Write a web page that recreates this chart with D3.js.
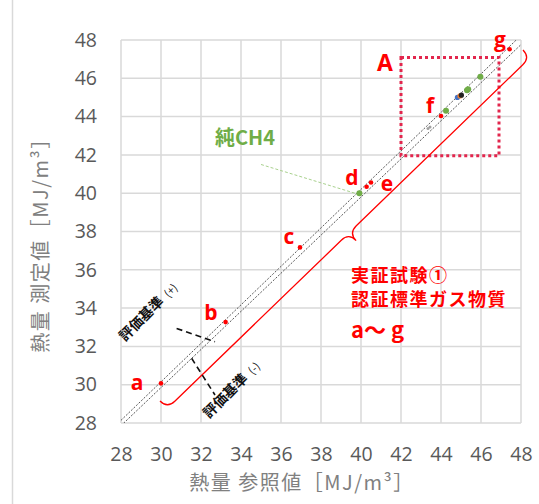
<!DOCTYPE html>
<html>
<head>
<meta charset="utf-8">
<script src="https://cdn.jsdelivr.net/npm/d3@7/dist/d3.min.js"></script>
<style>
  html, body { margin: 0; padding: 0; background: #fff; }
  svg { display: block; }
</style>
</head>
<body>
<svg id="chart" width="539" height="504"></svg>
<script>
// ---- data (MJ/m3) ----
const tickValues = [28, 30, 32, 34, 36, 38, 40, 42, 44, 46, 48];

// certified standard gases a–g: [reference, measured]
const stdLabels = ["a", "b", "c", "d", "e", "f", "g"];
const stdRef    = [30.0, 33.23, 36.95, 40.28, 40.5, 44.0, 47.43];
const stdMeas   = [30.07, 33.27, 37.17, 40.34, 40.56, 44.03, 47.52];

// pure CH4 runs
const ch4Ref  = [39.92, 44.25, 45.3, 45.36, 45.97];
const ch4Meas = [40.0, 44.3, 45.37, 45.43, 46.08];

// other runs in the 45 MJ/m3 cluster
const otherRef   = [44.82, 44.95, 45.02, 43.35, 43.45];
const otherMeas  = [45.0, 45.08, 45.12, 43.38, 43.46];
const otherColor = ["#4472c4", "#ed7d31", "#222222", "#a0a0a0", "#a0a0a0"];

// evaluation criterion: measured within ±0.5 % of reference
const criterionRate = [0.005, -0.005];

// label positions (data units)
const stdLabelX = [28.8, 32.5, 36.4, 39.55, 41.3, 43.45, 46.95];
const stdLabelY = [30.09, 33.74, 37.71, 40.79, 40.48, 44.55, 48.0];

// ---- layout ----
const svg = d3.select("#chart");
const x = d3.scaleLinear().domain([28, 48]).range([121, 521]);
const y = d3.scaleLinear().domain([28, 48]).range([423, 40]);

const RED = "#ff0000", GREEN = "#70ad47", GRID = "#d9d9d9";
const NUM_FONT = "'Open Sans', 'Noto Sans', sans-serif";
const JP_FONT = "'Noto Sans CJK JP', 'Noto Sans', sans-serif";

// outer frame edge
svg.append("line").attr("x1", 12.5).attr("x2", 12.5).attr("y1", 0).attr("y2", 504)
  .attr("stroke", GRID).attr("stroke-width", 1.5);

// grid
const grid = svg.append("g");
grid.selectAll("line.v").data(tickValues).join("line")
  .attr("x1", d => x(d)).attr("x2", d => x(d))
  .attr("y1", y(28)).attr("y2", y(48))
  .attr("stroke", GRID).attr("stroke-width", 1.5);
grid.selectAll("line.h").data(tickValues).join("line")
  .attr("y1", d => y(d)).attr("y2", d => y(d))
  .attr("x1", x(28)).attr("x2", x(48))
  .attr("stroke", GRID).attr("stroke-width", 1.5);

// axes (labels only)
const xAxis = svg.append("g").attr("transform", `translate(0,${y(28)})`)
  .call(d3.axisBottom(x).tickValues(tickValues).tickSize(0).tickPadding(24));
const yAxis = svg.append("g").attr("transform", `translate(${x(28)},0)`)
  .call(d3.axisLeft(y).tickValues(tickValues).tickSize(0).tickPadding(24));
[xAxis, yAxis].forEach(a => {
  a.select(".domain").remove();
  a.selectAll("text").attr("font-family", NUM_FONT).attr("font-size", 19.5)
    .attr("fill", "#595959");
});

// axis titles
svg.append("text").attr("x", 302).attr("y", 490).attr("text-anchor", "middle")
  .attr("font-family", JP_FONT).attr("font-size", 20).attr("letter-spacing", 1.5).attr("fill", "#808080")
  .text("熱量 参照値［MJ/m³］");
svg.append("text").attr("transform", "translate(48,240) rotate(-90)")
  .attr("text-anchor", "middle")
  .attr("font-family", JP_FONT).attr("font-size", 20).attr("letter-spacing", 1.5).attr("fill", "#808080")
  .text("熱量 測定値［MJ/m³］");

// clip to plot area
svg.append("clipPath").attr("id", "plotClip").append("rect")
  .attr("x", x(28)).attr("y", y(48)).attr("width", x(48) - x(28)).attr("height", y(28) - y(48));

// criterion lines
const line = d3.line().x(d => x(d[0])).y(d => y(d[1]));
svg.append("g").attr("clip-path", "url(#plotClip)")
  .selectAll("path").data(criterionRate).join("path")
  .attr("d", r => line([[28, 28 * (1 + r)], [48, 48 * (1 + r)]]))
  .attr("fill", "none").attr("stroke", "#444").attr("stroke-width", 0.9)
  .attr("stroke-dasharray", "2,1.5");

// box A
svg.append("rect")
  .attr("x", x(42)).attr("y", y(47.08))
  .attr("width", x(46.9) - x(42)).attr("height", y(41.95) - y(47.08))
  .attr("fill", "none").attr("stroke", "#e2264d").attr("stroke-width", 3)
  .attr("stroke-dasharray", "3,3");
svg.append("text").attr("x", x(41.2)).attr("y", y(46.85) + 9)
  .attr("text-anchor", "middle").attr("font-family", NUM_FONT)
  .attr("font-weight", "bold").attr("font-size", 23).attr("fill", RED).text("A");

// curly brace alongside a–g (tip points away from the diagonal)
function bracePath(p0, p1, r) {
  const L = Math.hypot(p1[0] - p0[0], p1[1] - p0[1]);
  const t = [(p1[0] - p0[0]) / L, (p1[1] - p0[1]) / L];
  const n = [-t[1], t[0]];
  const pt = (b, a, k) => [b[0] + t[0] * a + n[0] * k, b[1] + t[1] * a + n[1] * k];
  const m = [(p0[0] + p1[0]) / 2, (p0[1] + p1[1]) / 2];
  const P = (q) => q[0].toFixed(1) + "," + q[1].toFixed(1);
  return "M" + P(p0) +
    "Q" + P(pt(p0, 0, r)) + " " + P(pt(p0, r, r)) +
    "L" + P(pt(m, -r, r)) +
    "Q" + P(pt(m, 0, r)) + " " + P(pt(m, 0, 2 * r)) +
    "Q" + P(pt(m, 0, r)) + " " + P(pt(m, r, r)) +
    "L" + P(pt(p1, -r, r)) +
    "Q" + P(pt(p1, 0, r)) + " " + P(p1);
}
const braceStart = [29.95, 29.15], braceEnd = [48.1, 47.48];
svg.append("path")
  .attr("d", bracePath([x(braceStart[0]), y(braceStart[1])], [x(braceEnd[0]), y(braceEnd[1])], 10.5))
  .attr("fill", "none").attr("stroke", RED).attr("stroke-width", 1.3);

// criterion labels and leaders
const leaders = [[[30.78, 32.94], [32.7, 32.24]], [[31.53, 31.38], [32.7, 29.46]]];
svg.selectAll("path.leader").data(leaders).join("path")
  .attr("d", d => line(d)).attr("fill", "none").attr("stroke", "#111")
  .attr("stroke-width", 1.6).attr("stroke-dasharray", "6,4");
const critLabels = [{ t: "評価基準", s: "(+)", p: [28.2, 32.23] }, { t: "評価基準", s: "(-)", p: [32.4, 28.21] }];
critLabels.forEach(c => {
  const tx = svg.append("text")
    .attr("transform", `translate(${x(c.p[0])},${y(c.p[1])}) rotate(-45)`)
    .attr("font-family", JP_FONT).attr("font-size", 14).attr("font-weight", "bold").attr("fill", "#111");
  tx.append("tspan").text(c.t);
  tx.append("tspan").attr("dx", 6).attr("font-size", 11).attr("font-weight", "normal").text(c.s);
});

// pure CH4 label and leader
svg.append("path").attr("d", line([[35.0, 41.5], [39.85, 39.95]]))
  .attr("fill", "none").attr("stroke", "#a9d18e").attr("stroke-width", 1)
  .attr("stroke-dasharray", "3,2");
svg.append("text").attr("x", 215).attr("y", 145)
  .attr("font-family", JP_FONT).attr("font-weight", "bold").attr("font-size", 20)
  .attr("fill", GREEN).text("純CH4");

// points
const pts = svg.append("g");
pts.selectAll("circle.o").data(otherRef).join("circle")
  .attr("cx", d => x(d)).attr("cy", (d, i) => y(otherMeas[i]))
  .attr("r", (d, i) => i < 3 ? 2.6 : 1.5).attr("fill", (d, i) => otherColor[i]);
pts.selectAll("circle.g").data(ch4Ref).join("circle")
  .attr("cx", d => x(d)).attr("cy", (d, i) => y(ch4Meas[i]))
  .attr("r", 3).attr("fill", GREEN);
pts.selectAll("circle.r").data(stdRef).join("circle")
  .attr("cx", d => x(d)).attr("cy", (d, i) => y(stdMeas[i]))
  .attr("r", 2.3).attr("fill", RED);

// a–g labels
svg.selectAll("text.std").data(stdLabels).join("text")
  .attr("x", (d, i) => x(stdLabelX[i])).attr("y", (d, i) => y(stdLabelY[i]) + 7)
  .attr("text-anchor", "middle").attr("font-family", NUM_FONT)
  .attr("font-weight", "bold").attr("font-size", 21).attr("fill", RED)
  .text(d => d);

// note block
const note = svg.append("g").attr("font-family", JP_FONT).attr("font-weight", "bold").attr("fill", RED);
note.append("text").attr("x", 351).attr("y", 282).attr("font-size", 18).attr("letter-spacing", 1.5).text("実証試験①");
note.append("text").attr("x", 351).attr("y", 306).attr("font-size", 18).attr("letter-spacing", 1.5).text("認証標準ガス物質");
note.append("text").attr("x", 351).attr("y", 338).attr("font-size", 22).text("a～ g");
</script>
</body>
</html>
